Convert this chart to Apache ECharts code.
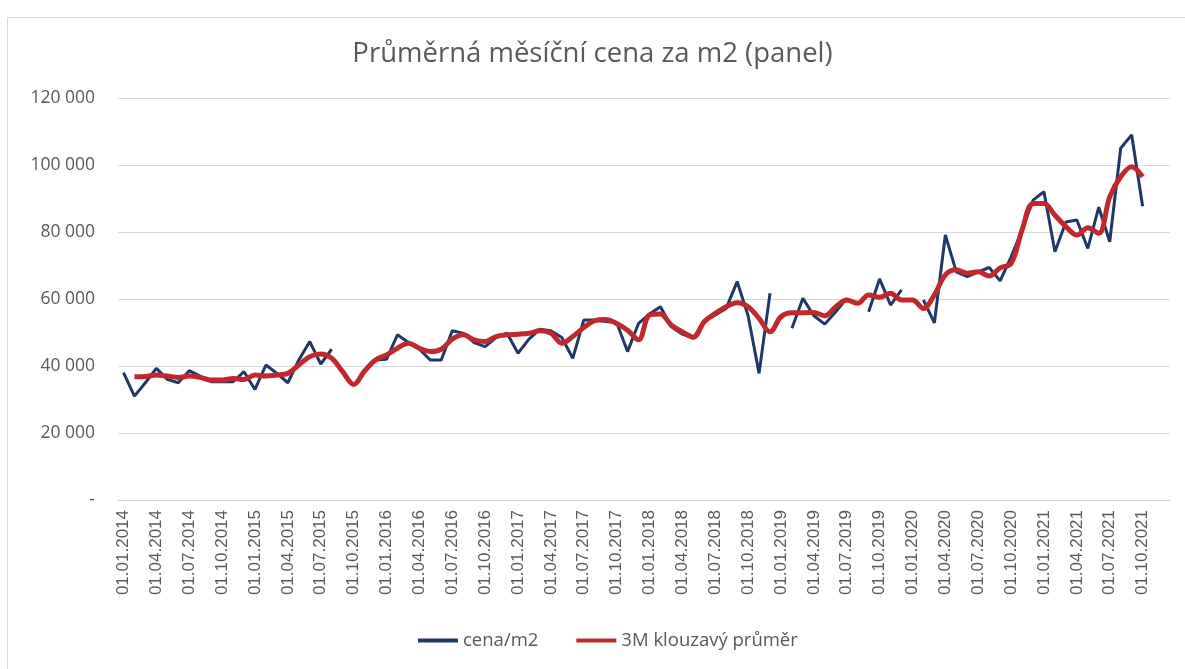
<!DOCTYPE html>
<html>
<head>
<meta charset="utf-8">
<script src="https://cdn.jsdelivr.net/npm/echarts@6/dist/echarts.min.js"></script>
<style>
html,body{margin:0;padding:0;background:#fff;}
#c{width:1185px;height:669px;}
</style>
</head>
<body>
<div id="c"></div>
<script>
// Monthly categories 01.01.2014 .. 01.12.2021
const years = [2014, 2015, 2016, 2017, 2018, 2019, 2020, 2021];
const months = ['01','02','03','04','05','06','07','08','09','10','11','12'];
const categories = [];
years.forEach(y => months.forEach(m => categories.push('01.' + m + '.' + y)));

// cena/m2
const cena = [
  38000, 31000, 35000, 39300, 36000, 35000, 38600, 37000, 35300, 35300, 35300, 38300,
  33000, 40300, 37800, 35000, 41800, 47300, 40600, 45000, null, null, null, 41800,
  42000, 49300, 47000, 45000, 41800, 41800, 50500, 49800, 47000, 45800, 48500, 49800,
  43800, 48000, 51000, 50500, 48500, 42300, 53700, 53700, 53300, 53000, 44300, 52700,
  55500, 57700, 51700, 49500, 48300, 53500, 55200, 57200, 65200, 55000, 37800, 61700,
  null, 51300, 60200, 55000, 52500, 56200, 60200, null, 56200, 66000, 58200, 62700,
  null, 59700, 52900, 79100, 68100, 66700, 68100, 69400, 65400, 72600, 80600, 89500,
  92000, 74100, 83000, 83600, 75100, 87400, 77100, 105000, 109000, 87700, null, null
];

// 3M klouzavý průměr
const prumer = [
  null, 36800, 36900, 37300, 37000, 36600, 37000, 36600, 35800, 35800, 36300, 36000,
  37300, 37000, 37300, 37800, 40300, 42800, 43600, 42300, 38300, 34500, 38500, 41800,
  43300, 45300, 46800, 45300, 44300, 45000, 48000, 49300, 47800, 47300, 48800, 49300,
  49500, 49800, 50500, 49800, 46800, 48800, 51500, 53500, 53900, 52700, 50700, 47800,
  55200, 55500, 52200, 50200, 48600, 53200, 55700, 57700, 58900, 57700, 54200, 50200,
  54700, 55900, 55900, 56000, 55000, 57700, 59700, 58700, 61200, 60500, 61700, 59700,
  59700, 57200, 61200, 67200, 68700, 67700, 68100, 66900, 69300, 70600, 80600, 88500,
  88500, 85000, 81600, 79100, 81300, 79600, 90500, 96500, 99500, 96500, null, null
];

const yTicks = { min: 0, max: 120000, interval: 20000 };
const seriesNames = ['cena/m2', '3M klouzavý průměr'];
const title = 'Průměrná měsíční cena za m2 (panel)';

const txt = '#595959';
const font = 'Open Sans';

const chart = echarts.init(document.getElementById('c'), null, {renderer: 'canvas'});
chart.setOption({
  animation: false,
  backgroundColor: '#fff',
  title: {
    text: title,
    left: 'center',
    top: 35,
    textStyle: {color: txt, fontSize: 27.5, fontWeight: 'normal', fontFamily: font}
  },
  legend: {
    bottom: 14,
    left: 413,
    itemWidth: 40,
    itemHeight: 4,
    itemGap: 38,
    icon: 'rect',
    textStyle: {color: txt, fontSize: 18.5, fontFamily: font, padding: [0,0,0,0]},
    data: seriesNames
  },
  grid: {left: 118, right: 15, top: 98, bottom: 169, containLabel: false},
  xAxis: {
    type: 'category',
    data: categories,
    boundaryGap: true,
    axisLine: {show: true, lineStyle: {color: '#d9d9d9', width: 1}},
    axisTick: {show: false},
    axisLabel: {
      rotate: 90, interval: 2, margin: 10,
      color: txt, fontSize: 17, fontFamily: 'Liberation Sans'
    },
    splitLine: {show: false}
  },
  yAxis: {
    type: 'value',
    min: yTicks.min, max: yTicks.max, interval: yTicks.interval,
    axisLine: {show: false},
    axisTick: {show: false},
    axisLabel: {
      margin: 23, color: txt, fontSize: 17.5, fontFamily: font,
      formatter: v => v === 0 ? '-' : String(v).replace(/\B(?=(\d{3})+(?!\d))/g, ' ')
    },
    splitLine: {lineStyle: {color: '#d9d9d9', width: 1}}
  },
  series: [
    {
      name: seriesNames[0], type: 'line', data: cena,
      showSymbol: false, symbol: 'none', connectNulls: false,
      lineStyle: {color: '#1f3864', width: 3},
      itemStyle: {color: '#1f3864'}
    },
    {
      name: seriesNames[1], type: 'line', data: prumer,
      showSymbol: false, symbol: 'none', smooth: 0.35,
      lineStyle: {color: '#c0282e', width: 5},
      itemStyle: {color: '#c0282e'}
    }
  ],
  graphic: [{
    type: 'rect', silent: true,
    shape: {x: 7.5, y: 17.5, width: 1190, height: 700},
    style: {fill: 'none', stroke: '#d9d9d9', lineWidth: 1}
  }]
});
</script>
</body>
</html>
